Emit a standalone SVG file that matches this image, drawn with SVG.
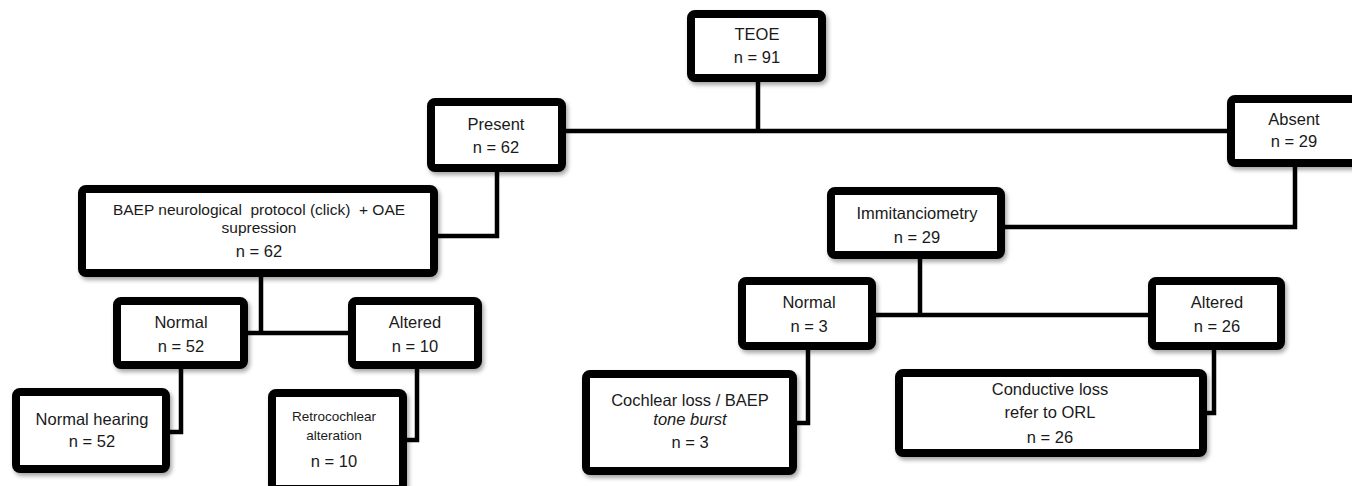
<svg xmlns="http://www.w3.org/2000/svg" width="1352" height="486" viewBox="0 0 1352 486">
<defs>
<filter id="sh" x="-10%" y="-10%" width="125%" height="130%">
<feDropShadow dx="2" dy="3" stdDeviation="2" flood-color="#000" flood-opacity="0.35"/>
</filter>
<style>
.box{fill:#fff;stroke:#000;stroke-width:8;filter:url(#sh)}
.t{font-family:"Liberation Sans",Arial,sans-serif;font-size:16.5px;fill:#1a1a1a;text-anchor:middle}
.s{font-size:13.5px}
.m{font-size:15.5px}
.i{font-style:italic}
.c{fill:none;stroke:#000;stroke-width:4.5;stroke-linejoin:miter}
</style>
</defs>
<rect width="1352" height="486" fill="#fff"/>
<g id="connectors">
<path class="c" d="M758 82 V131 M565 131 H1227"/>
<path class="c" d="M497 172 V236 H438"/>
<path class="c" d="M261 277 V333 M248 333 H348"/>
<path class="c" d="M181 369 V432 H170"/>
<path class="c" d="M417 369 V440 H407"/>
<path class="c" d="M1295 167 V227 H1005"/>
<path class="c" d="M920 259 V315 M876 315 H1148"/>
<path class="c" d="M808 350 V423 H797"/>
<path class="c" d="M1214 350 V413 H1207"/>
</g>
<g id="teoe"><rect class="box" x="691" y="14" width="131" height="64" rx="4"/><text class="t" x="757" y="40">TEOE</text><text class="t" x="757" y="63">n = 91</text></g>
<g id="present"><rect class="box" x="431" y="102" width="131" height="66" rx="4"/><text class="t" x="496" y="130">Present</text><text class="t" x="496" y="153">n = 62</text></g>
<g id="absent"><rect class="box" x="1231" y="99" width="130" height="64" rx="4"/><text class="t" x="1294" y="125">Absent</text><text class="t" x="1294" y="147">n = 29</text></g>
<g id="baep"><rect class="box" x="82" y="189" width="352" height="84" rx="4"/><text class="t m" x="259" y="215" xml:space="preserve">BAEP neurological  protocol (click)  + OAE</text><text class="t m" x="259" y="233">supression</text><text class="t" x="259" y="257">n = 62</text></g>
<g id="immit"><rect class="box" x="831" y="191" width="170" height="64" rx="4"/><text class="t" x="917" y="219">Immitanciometry</text><text class="t" x="917" y="243">n = 29</text></g>
<g id="normal-l"><rect class="box" x="117" y="301" width="127" height="64" rx="4"/><text class="t" x="181" y="328">Normal</text><text class="t" x="181" y="352">n = 52</text></g>
<g id="altered-l"><rect class="box" x="352" y="301" width="126" height="64" rx="4"/><text class="t" x="415" y="328">Altered</text><text class="t" x="415" y="352">n = 10</text></g>
<g id="normal-hearing"><rect class="box" x="16" y="392" width="150" height="77" rx="4"/><text class="t" x="92" y="425">Normal hearing</text><text class="t" x="92" y="447">n = 52</text></g>
<g id="retro"><rect class="box" x="272" y="393" width="131" height="96" rx="4"/><text class="t s" x="334" y="421">Retrocochlear</text><text class="t s" x="334" y="440">alteration</text><text class="t" x="334" y="467">n = 10</text></g>
<g id="normal-r"><rect class="box" x="742" y="281" width="130" height="65" rx="4"/><text class="t" x="809" y="308">Normal</text><text class="t" x="809" y="332">n = 3</text></g>
<g id="altered-r"><rect class="box" x="1152" y="281" width="129" height="65" rx="4"/><text class="t" x="1217" y="308">Altered</text><text class="t" x="1217" y="332">n = 26</text></g>
<g id="cochlear"><rect class="box" x="586" y="374" width="207" height="97" rx="4"/><text class="t" x="690" y="406">Cochlear loss  / BAEP</text><text class="t i" x="690" y="425">tone burst</text><text class="t" x="690" y="448">n = 3</text></g>
<g id="conductive"><rect class="box" x="899" y="373" width="304" height="80" rx="4"/><text class="t" x="1050" y="395">Conductive loss</text><text class="t" x="1050" y="418">refer to ORL</text><text class="t" x="1050" y="443">n = 26</text></g>
</svg>
